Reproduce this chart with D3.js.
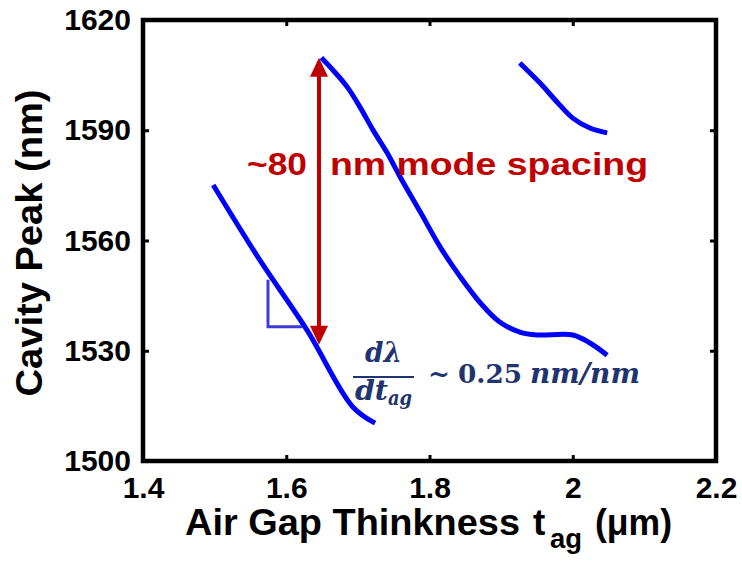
<!DOCTYPE html>
<html><head><meta charset="utf-8">
<script src="https://cdn.jsdelivr.net/npm/d3@7"></script>
<style>html,body{margin:0;padding:0;background:#fff;}</style>
</head><body>
<svg id="c" width="742" height="562"></svg>
<script>
// ---- data ----
const xTicks = [1.4, 1.6, 1.8, 2.0, 2.2];
const yTicks = [1500, 1530, 1560, 1590, 1620];
const mode1T = [1.498, 1.563, 1.629, 1.693, 1.724];
const mode1L = [1575.1, 1554.7, 1535.6, 1514.7, 1510.3];
const mode2T = [1.649, 1.665, 1.685, 1.703, 1.721, 1.741, 1.759, 1.787, 1.815, 1.843, 1.871, 1.898, 1.926, 1.950, 2.000, 2.024, 2.048];
const mode2L = [1609.7, 1606.4, 1601.8, 1596.3, 1590.1, 1583.8, 1577.3, 1567.8, 1558.2, 1550.1, 1543.0, 1537.8, 1535.1, 1534.3, 1534.3, 1532.1, 1528.8];
const mode3T = [1.926, 1.954, 1.978, 2.000, 2.024, 2.048];
const mode3L = [1608.3, 1602.9, 1597.7, 1593.3, 1590.6, 1589.3];
const arrowT = 1.6457, arrowTop = 1609.7, arrowBottom = 1531.6;
const triT = [1.5745, 1.5745, 1.622];
const triL = [1549.3, 1536.5, 1536.5];

// ---- layout ----
const svg = d3.select("#c");
const x = d3.scaleLinear().domain([1.4, 2.2]).range([143, 716]);
const y = d3.scaleLinear().domain([1500, 1620]).range([461, 20]);
const SANS = "'Liberation Sans', Arial, sans-serif";

function styleAxis(g) {
  g.select(".domain").remove();
  g.selectAll(".tick line").attr("stroke", "#000").attr("stroke-width", 3);
  g.selectAll("text").attr("font-family", SANS).attr("font-weight", "bold")
    .attr("font-size", 30).attr("fill", "#000");
}
svg.append("g").attr("transform", "translate(0,461)")
  .call(d3.axisBottom(x).tickValues(xTicks).tickSize(-6).tickPadding(16).tickFormat(d3.format("")))
  .call(styleAxis);
svg.append("g").attr("transform", "translate(0,20)")
  .call(d3.axisTop(x).tickValues(xTicks).tickSize(-6).tickFormat(""))
  .call(styleAxis);
svg.append("g").attr("transform", "translate(143,0)")
  .call(d3.axisLeft(y).tickValues(yTicks).tickSize(-6).tickPadding(12).tickFormat(d3.format("d")))
  .call(styleAxis);
svg.append("g").attr("transform", "translate(716,0)")
  .call(d3.axisRight(y).tickValues(yTicks).tickSize(-6).tickFormat(""))
  .call(styleAxis);

// frame
svg.append("rect").attr("x", x(1.4)).attr("y", y(1620))
  .attr("width", x(2.2) - x(1.4)).attr("height", y(1500) - y(1620))
  .attr("fill", "none").attr("stroke", "#000").attr("stroke-width", 4.5);

// curves
const line = d3.line().x(d => x(d[0])).y(d => y(d[1])).curve(d3.curveCatmullRom.alpha(0.5));
[[mode1T, mode1L], [mode2T, mode2L], [mode3T, mode3L]].forEach(([t, l]) => {
  svg.append("path").datum(t.map((v, i) => [v, l[i]])).attr("d", line)
    .attr("fill", "none").attr("stroke", "#0000ff").attr("stroke-width", 5)
    .attr("stroke-linejoin", "round");
});

// slope triangle
svg.append("path").datum(triT.map((v, i) => [v, triL[i]]))
  .attr("d", d3.line().x(d => x(d[0])).y(d => y(d[1])))
  .attr("fill", "none").attr("stroke", "#3c3cd2").attr("stroke-width", 3);

// red double arrow
const ax = x(arrowT), aTop = y(arrowTop), aBot = y(arrowBottom);
const headL = 19, headW = 9;
svg.append("line").attr("x1", ax).attr("x2", ax).attr("y1", aTop + headL - 2).attr("y2", aBot - headL + 2)
  .attr("stroke", "#c00000").attr("stroke-width", 4);
svg.append("path").attr("d", `M${ax},${aTop} L${ax - headW},${aTop + headL} L${ax + headW},${aTop + headL} Z`).attr("fill", "#c00000");
svg.append("path").attr("d", `M${ax},${aBot} L${ax - headW},${aBot - headL} L${ax + headW},${aBot - headL} Z`).attr("fill", "#c00000");

// red label
svg.append("text").attr("x", 247).attr("y", 175).text("~80")
  .attr("font-family", SANS).attr("font-weight", "bold").attr("font-size", 32).attr("fill", "#c00000")
  .attr("textLength", 60).attr("lengthAdjust", "spacingAndGlyphs");
svg.append("text").attr("x", 330).attr("y", 175).text("nm mode spacing")
  .attr("font-family", SANS).attr("font-weight", "bold").attr("font-size", 32).attr("fill", "#c00000")
  .attr("textLength", 318).attr("lengthAdjust", "spacingAndGlyphs");

// slope formula
const SERIF = "'DejaVu Serif', 'Liberation Serif', serif";
const navy = "#1f3470";
function ftext(px, py, s, size, italic) {
  return svg.append("text").attr("x", px).attr("y", py).text(s)
    .attr("font-family", SERIF).attr("font-weight", "bold").attr("font-style", italic ? "italic" : "normal")
    .attr("font-size", size).attr("fill", navy);
}
ftext(365, 362, "dλ", 27, true).attr("textLength", 37).attr("lengthAdjust", "spacingAndGlyphs");
svg.append("line").attr("x1", 353).attr("x2", 414).attr("y1", 377).attr("y2", 377)
  .attr("stroke", navy).attr("stroke-width", 2);
ftext(355, 400, "dt", 27, true).attr("textLength", 33).attr("lengthAdjust", "spacingAndGlyphs");
ftext(388, 405, "ag", 20, true).attr("textLength", 24).attr("lengthAdjust", "spacingAndGlyphs");
ftext(428, 383, "~", 26, false).attr("textLength", 22).attr("lengthAdjust", "spacingAndGlyphs");
ftext(458, 383, "0.25", 26, false).attr("textLength", 64).attr("lengthAdjust", "spacingAndGlyphs");
ftext(530, 383, "nm/nm", 27, true).attr("textLength", 110).attr("lengthAdjust", "spacingAndGlyphs");

// axis titles
svg.append("text").attr("transform", "translate(42,243) rotate(-90)").attr("text-anchor", "middle")
  .text("Cavity Peak (nm)").attr("font-family", SANS).attr("font-weight", "bold").attr("font-size", 37)
  .attr("fill", "#000").attr("textLength", 307).attr("lengthAdjust", "spacingAndGlyphs");
function ttext(px, py, s, size, len) {
  const t = svg.append("text").attr("x", px).attr("y", py).text(s)
    .attr("font-family", SANS).attr("font-weight", "bold").attr("font-size", size).attr("fill", "#000");
  if (len) t.attr("textLength", len).attr("lengthAdjust", "spacingAndGlyphs");
  return t;
}
ttext(185, 535, "Air Gap Thinkness", 37, 335);
ttext(533, 535, "t", 37);
ttext(550, 548, "ag", 27, 32);
ttext(595, 535, "(μm)", 36, 77);
</script>
</body></html>
